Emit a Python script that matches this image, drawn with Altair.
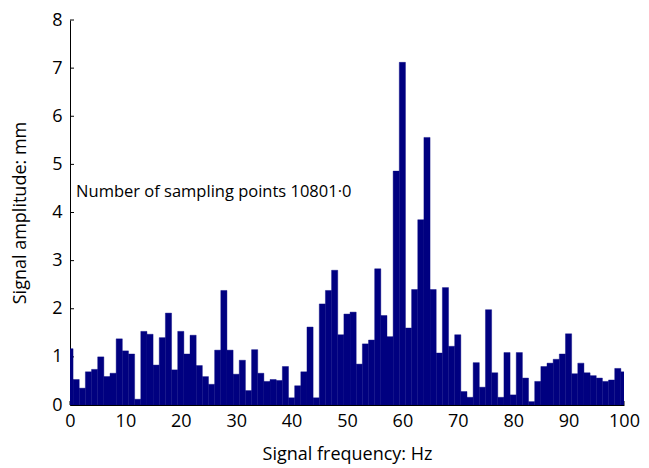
import altair as alt
import pandas as pd

# Spectrum (one bar per frequency bin)
amplitude = [
    1.17, 0.53, 0.35, 0.69, 0.74, 1.00, 0.59, 0.66, 1.375, 1.125,
    1.06, 0.12, 1.53, 1.47, 0.83, 1.40, 1.91, 0.73, 1.53, 1.06,
    1.45, 0.82, 0.59, 0.43, 1.14, 2.38, 1.14, 0.64, 0.93, 0.30,
    1.15, 0.66, 0.49, 0.53, 0.51, 0.80, 0.15, 0.40, 0.69, 1.62,
    0.15, 2.10, 2.38, 2.80, 1.46, 1.89, 1.93, 0.85, 1.27, 1.35,
    2.83, 1.86, 1.42, 4.86, 7.12, 1.60, 2.40, 3.85, 5.56, 2.40,
    1.08, 2.44, 1.22, 1.46, 0.28, 0.16, 0.88, 0.37, 1.98, 0.67,
    0.16, 1.09, 0.21, 1.09, 0.56, 0.07, 0.49, 0.80, 0.87, 0.95,
    1.06, 1.48, 0.65, 0.87, 0.67, 0.61, 0.56, 0.49, 0.52, 0.76, 0.69,
]
sample_rate = 12000.0
sample_points = 10801
x_ticks = [0, 10, 20, 30, 40, 50, 60, 70, 80, 90, 100]
y_ticks = [0, 1, 2, 3, 4, 5, 6, 7, 8]
note = "Number of sampling points 10801·0"

df_step = sample_rate / sample_points
bars_df = pd.DataFrame({"k": list(range(len(amplitude))), "amp": amplitude})

FONT = "Open Sans"
NAVY = "#000080"

xscale = alt.Scale(domain=[0, 100], nice=False, zero=False)
yscale = alt.Scale(domain=[0, 8], nice=False)

bars = (
    alt.Chart(bars_df)
    .transform_calculate(
        f0=f"(datum.k - 0.5) * {df_step}",
        f1=f"(datum.k + 0.5) * {df_step}",
    )
    .mark_rect(color=NAVY, stroke=NAVY, strokeWidth=0.4, clip=True)
    .encode(
        x=alt.X(
            "f0:Q",
            scale=xscale,
            axis=alt.Axis(
                values=x_ticks,
                title="Signal frequency: Hz",
                grid=False,
                ticks=False,
                labelFlush=False,
                labelOverlap=False,
                labelFontSize=18,
                titleFontSize=18,
                titleFontWeight="normal",
                labelPadding=7,
                titlePadding=15,
                domainColor="#000000",
                labelColor="#000000",
                titleColor="#000000",
                labelFont=FONT,
                titleFont=FONT,
            ),
        ),
        x2="f1:Q",
        y=alt.Y(
            "amp:Q",
            scale=yscale,
            axis=alt.Axis(
                values=y_ticks,
                title="Signal amplitude: mm",
                grid=False,
                ticks=False,
                labelFlush=False,
                labelOverlap=False,
                labelFontSize=18,
                titleFontSize=18,
                titleFontWeight="normal",
                labelPadding=8,
                titlePadding=22,
                domainColor="#000000",
                labelColor="#000000",
                titleColor="#000000",
                labelFont=FONT,
                titleFont=FONT,
            ),
        ),
        y2=alt.datum(0),
    )
)

ytick_rules = (
    alt.Chart(pd.DataFrame({"v": y_ticks}))
    .mark_rule(color="#000000", strokeWidth=1)
    .encode(y=alt.Y("v:Q", scale=yscale), x=alt.value(0), x2=alt.value(4))
)

xtick_rules = (
    alt.Chart(pd.DataFrame({"v": x_ticks}))
    .mark_rule(color="#000000", strokeWidth=1)
    .encode(x=alt.X("v:Q", scale=xscale), y=alt.value(385), y2=alt.value(381))
)

text = (
    alt.Chart(pd.DataFrame({"x": [1.1], "y": [4.43], "t": [note]}))
    .mark_text(align="left", baseline="middle", fontSize=16.5, font=FONT, color="#000000")
    .encode(x=alt.X("x:Q", scale=xscale), y=alt.Y("y:Q", scale=yscale), text="t:N")
)

chart = (
    alt.layer(xtick_rules, ytick_rules, bars, text)
    .properties(
        width=554,
        height=385,
        padding={"left": 70, "top": 20, "right": 25, "bottom": 63},
        autosize=alt.AutoSizeParams(type="none"),
        background="#ffffff",
    )
    .configure_view(stroke=None)
)

chart.save("out.html", embed_options={"renderer": "svg", "actions": False})
